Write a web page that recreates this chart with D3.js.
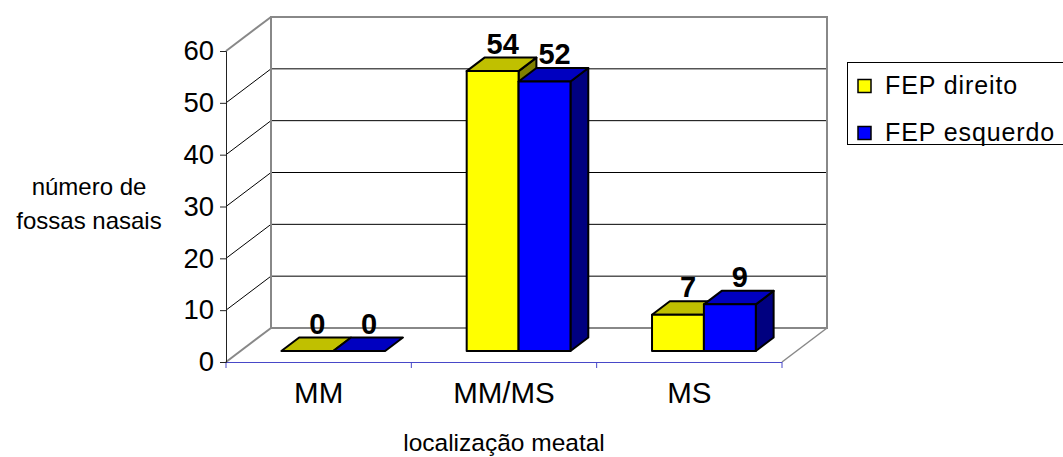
<!DOCTYPE html>
<html><head><meta charset="utf-8">
<script src="https://cdn.jsdelivr.net/npm/d3@7"></script>
<style>body{margin:0;background:#fff}svg{display:block}text{font-family:"Liberation Sans",Arial,sans-serif}</style>
</head><body>
<svg id="c" width="1063" height="457"></svg>
<script>
const categories = ["MM", "MM/MS", "MS"];
const seriesNames = ["FEP direito", "FEP esquerdo"];
const direito = [0, 54, 7];
const esquerdo = [0, 52, 9];
const yTicks = [0, 10, 20, 30, 40, 50, 60];
const yTitle = ["número de", "fossas nasais"];
const xTitle = "localização meatal";

const svg = d3.select("#c");
const plotLeft = 226, plotRight = 782, plotBottom = 362, plotTop = 51;
const DX = 45, DY = 34; // depth projection
const x = d3.scaleBand().domain(categories).range([plotLeft, plotRight]);
const y = d3.scaleLinear().domain([0, 60]).range([plotBottom, plotTop]);
const inner = d3.scaleBand().domain(seriesNames).range([x.bandwidth()*0.22, x.bandwidth()*0.78]);
const zf = 0.324, zb = 0.72;
const P = (px, v, z) => [px + DX*z, y(v) - DY*z];

const faces = {
  "FEP direito": {front:"#ffff00", top:"#c0c000", side:"#808000"},
  "FEP esquerdo": {front:"#0000ff", top:"#0000c0", side:"#000080"}
};

const gray = "#888888";
yTicks.forEach(t => {
  if (t === 0 || t === 60) return;
  svg.append("line").attr("x1", plotLeft).attr("y1", y(t)).attr("x2", plotLeft+DX).attr("y2", y(t)-DY)
    .attr("stroke", "#000").attr("stroke-width", 1);
  svg.append("line").attr("x1", plotLeft+DX).attr("y1", y(t)-DY).attr("x2", plotRight+DX).attr("y2", y(t)-DY)
    .attr("stroke", "#000").attr("stroke-width", 1);
});
svg.append("rect").attr("x", plotLeft+DX).attr("y", y(60)-DY).attr("width", plotRight-plotLeft).attr("height", y(0)-y(60))
  .attr("fill", "none").attr("stroke", gray).attr("stroke-width", 2);
svg.append("line").attr("x1", plotLeft).attr("y1", y(60)).attr("x2", plotLeft+DX).attr("y2", y(60)-DY).attr("stroke", gray).attr("stroke-width", 2);
svg.append("line").attr("x1", plotLeft).attr("y1", y(0)).attr("x2", plotLeft+DX).attr("y2", y(0)-DY).attr("stroke", gray).attr("stroke-width", 2);
svg.append("line").attr("x1", plotRight).attr("y1", y(0)).attr("x2", plotRight+DX).attr("y2", y(0)-DY).attr("stroke", gray).attr("stroke-width", 1.5);

const data = [direito, esquerdo];
const labels = [];
categories.forEach((c, ci) => {
  seriesNames.forEach((s, si) => {
    const v = data[si][ci];
    const x0 = x(c) + inner(s), x1 = x0 + inner.bandwidth();
    const col = faces[s];
    const fTL = P(x0, v, zf), fTR = P(x1, v, zf), fBR = P(x1, 0, zf), fBL = P(x0, 0, zf);
    const bTL = P(x0, v, zb), bTR = P(x1, v, zb), bBR = P(x1, 0, zb);
    const g = svg.append("g").attr("stroke", "#000").attr("stroke-width", 2).attr("stroke-linejoin", "round");
    if (v > 0) {
      g.append("polygon").attr("points", [fTR, bTR, bBR, fBR].join(" ")).attr("fill", col.side);
    }
    g.append("polygon").attr("points", [fTL, fTR, bTR, bTL].join(" ")).attr("fill", col.top);
    if (v > 0) {
      g.append("polygon").attr("points", [fTL, fTR, fBR, fBL].join(" ")).attr("fill", col.front);
    }
    labels.push({v, x: (x0 + x1)/2 + DX*zf + 10, y: bTL[1] - 4});
  });
});
svg.append("g").selectAll("text").data(labels).join("text")
  .attr("x", d => d.x).attr("y", d => d.y).attr("text-anchor", "middle")
  .attr("font-size", 29).attr("font-weight", "bold").attr("fill", "#000").text(d => d.v);

svg.append("line").attr("x1", plotLeft).attr("y1", plotBottom + 0.5).attr("x2", plotRight).attr("y2", plotBottom + 0.5).attr("stroke", "#4848c8").attr("stroke-width", 1);
const xEdges = categories.map(c => x(c)).concat([plotRight]);
svg.append("g").selectAll("line").data(xEdges).join("line")
  .attr("x1", d => d).attr("x2", d => d).attr("y1", plotBottom).attr("y2", plotBottom + 6)
  .attr("stroke", "#4848c8").attr("stroke-width", 1);

const yAxis = d3.axisLeft(y).tickValues(yTicks).tickSize(6).tickPadding(6);
const ya = svg.append("g").attr("transform", `translate(${plotLeft},0)`).call(yAxis);
ya.select(".domain").attr("stroke", "#222").attr("stroke-width", 1);
ya.selectAll(".tick line").attr("stroke", "#222");
ya.selectAll("text").attr("font-size", 27.5).attr("font-family", "Liberation Sans, Arial, sans-serif").attr("fill", "#000");

svg.append("g").selectAll("text").data(categories).join("text")
  .attr("x", d => x(d) + x.bandwidth()/2).attr("y", 403).attr("text-anchor", "middle")
  .attr("font-size", 29.5).attr("fill", "#000").text(d => d);

svg.append("text").attr("x", (plotLeft+plotRight)/2).attr("y", 451).attr("text-anchor", "middle")
  .attr("font-size", 24.5).attr("fill", "#000").text(xTitle);
svg.append("g").selectAll("text").data(yTitle).join("text")
  .attr("x", 89).attr("y", (d, i) => 195 + i*34).attr("text-anchor", "middle")
  .attr("font-size", 24).attr("fill", "#000").text(d => d);

const lg = svg.append("g");
lg.append("rect").attr("x", 847.5).attr("y", 62.5).attr("width", 230).attr("height", 82)
  .attr("fill", "#fff").attr("stroke", "#000").attr("stroke-width", 1);
seriesNames.forEach((s, i) => {
  const cy = 86 + i*47;
  lg.append("rect").attr("x", 858).attr("y", cy - 6.5).attr("width", 13).attr("height", 13)
    .attr("fill", faces[s].front).attr("stroke", "#000").attr("stroke-width", 1.5);
  lg.append("text").attr("x", 885).attr("y", cy + 8).attr("font-size", 25).attr("letter-spacing", 0.9)
    .attr("fill", "#000").text(s);
});
</script>
</body></html>
